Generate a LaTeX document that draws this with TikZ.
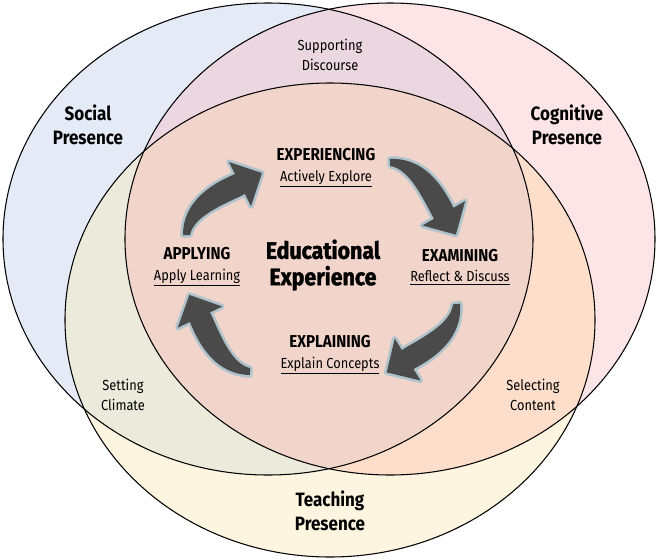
\documentclass[tikz,border=0pt]{standalone}
\usepackage{fontspec}
\setmainfont[FakeStretch=0.88]{Fira Sans}
\newfontfamily\heavyfont[FakeStretch=0.9,FakeBold=1.6]{Fira Sans}
\usetikzlibrary{positioning}

\definecolor{socialblue}{HTML}{E4EBF7}
\definecolor{cogpink}{HTML}{FDE5E7}
\definecolor{teachyellow}{HTML}{FEF5E0}
\definecolor{scmix}{HTML}{ECD7E0}
\definecolor{stmix}{HTML}{ECEADB}
\definecolor{ctmix}{HTML}{FDDECB}
\definecolor{coremix}{HTML}{F2D5CA}
\definecolor{arrowgrey}{HTML}{4A4A4A}
\definecolor{glow}{HTML}{AFC3CC}

\def\socialE{(268,239) ellipse (265 and 236)}
\def\cogE{(390,239) ellipse (265 and 236)}
\def\teachE{(330,320) ellipse (265 and 237)}
\newcommand\phasehead[1]{{\fontsize{9.8}{11.3}\selectfont\bfseries #1}}

\tikzset{
  ring/.style={draw=black, line width=0.6pt},
  presence/.style={font=\fontsize{11}{13.6}\selectfont\bfseries, align=center},
  teach/.style={font=\fontsize{8.3}{11.3}\selectfont, align=center},
  phase/.style={font=\fontsize{8.3}{11.6}\selectfont, align=center},
  turn/.style={fill=arrowgrey, preaction={draw=glow, line width=3pt, line join=round}},
}

\begin{document}
\begin{tikzpicture}[x=0.02cm, y=-0.02cm]
	\useasboundingbox (0,0) rectangle (657,559);
	% the three presences
	\fill[socialblue] \socialE;
	\fill[cogpink] \cogE;
	\fill[teachyellow] \teachE;
	\begin{scope}
		\clip \socialE;
		\fill[scmix] \cogE;
		\fill[stmix] \teachE;
	\end{scope}
	\begin{scope}
		\clip \cogE;
		\fill[ctmix] \teachE;
		\clip \socialE;
		\fill[coremix] \teachE;
	\end{scope}
	\draw[ring] \socialE;
	\draw[ring] \cogE;
	\draw[ring] \teachE;
	% cycle arrows
	\foreach \tx/\ty/\rot in {186/235/0, 390/162/-87, 457/304/185, 250/372/89}{
		\fill[turn, shift={(\tx,\ty)}, rotate=\rot] (-3,0) .. controls (-3,-35) and (28,-52) .. (49,-61)
			-- (43,-73) -- (76,-62) -- (65,-29) -- (59,-41) .. controls (41,-32) and (8,-20) .. (4,0) -- cycle;
	}
	\node[presence] (social) at (88,125) {Social\\Presence};
	\node[presence] (cognitive) at (567,125) {Cognitive\\Presence};
	\node[presence] (teaching) at (330,511) {Teaching\\Presence};
	\node[teach] (discourse) at (330,55) {Supporting\\Discourse};
	\node[teach] (climate) at (123,395) {Setting\\Climate};
	\node[teach] (content) at (533,395) {Selecting\\Content};
	\node[phase] (experiencing) at (326,168) {\phasehead{EXPERIENCING}\\\underline{Actively Explore}};
	\node[phase] (examining) at (460,267) {\phasehead{EXAMINING}\\\underline{Reflect \& Discuss}};
	\node[phase] (explaining) at (330,355) {\phasehead{EXPLAINING}\\\underline{Explain Concepts}};
	\node[phase] (applying) at (197,267) {\phasehead{APPLYING}\\\underline{Apply Learning}};
	\node[font=\fontsize{13.5}{15}\selectfont\heavyfont\bfseries, align=center] (core) at (323,265) {Educational\\Experience};
\end{tikzpicture}
\end{document}
